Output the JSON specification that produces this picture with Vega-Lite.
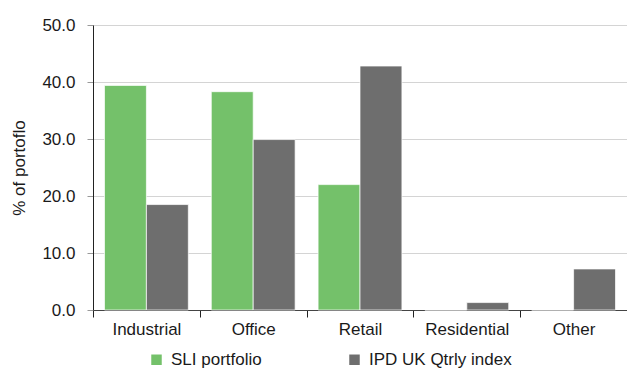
{
  "$schema": "https://vega.github.io/schema/vega-lite/v6.json",
  "width": 534,
  "height": 285,
  "autosize": {"type": "none"},
  "padding": {"left": 93, "top": 25, "right": 0, "bottom": 61},
  "background": "white",
  "data": {
    "values": [
      {"sector": "Industrial", "series": "SLI portfolio", "value": 39.4},
      {"sector": "Industrial", "series": "IPD UK Qtrly index", "value": 18.5},
      {"sector": "Office", "series": "SLI portfolio", "value": 38.3},
      {"sector": "Office", "series": "IPD UK Qtrly index", "value": 29.9},
      {"sector": "Retail", "series": "SLI portfolio", "value": 22.0},
      {"sector": "Retail", "series": "IPD UK Qtrly index", "value": 42.8},
      {"sector": "Residential", "series": "SLI portfolio", "value": 0},
      {"sector": "Residential", "series": "IPD UK Qtrly index", "value": 1.3},
      {"sector": "Other", "series": "SLI portfolio", "value": 0},
      {"sector": "Other", "series": "IPD UK Qtrly index", "value": 7.2}
    ]
  },
  "config": {
    "view": {"stroke": null},
    "font": "Liberation Sans",
    "axis": {"labelFont": "Liberation Sans", "titleFont": "Liberation Sans"}
  },
  "mark": {"type": "bar", "stroke": "#ffffff", "strokeWidth": 1, "strokeOpacity": 0.7},
  "encoding": {
    "x": {
      "field": "sector",
      "type": "nominal",
      "sort": ["Industrial", "Office", "Retail", "Residential", "Other"],
      "scale": {"paddingInner": 0, "paddingOuter": 0},
      "axis": {
        "title": null,
        "labelAngle": 0,
        "labelFontSize": 17,
        "labelColor": "#1a1a1a",
        "labelPadding": 4,
        "tickBand": "extent",
        "tickSize": 7,
        "tickColor": "#222222",
        "domainColor": "#444444",
        "grid": false
      }
    },
    "xOffset": {
      "field": "series",
      "type": "nominal",
      "sort": ["SLI portfolio", "IPD UK Qtrly index"],
      "scale": {"paddingInner": 0, "paddingOuter": 0.274}
    },
    "y": {
      "field": "value",
      "type": "quantitative",
      "scale": {"domain": [0, 50]},
      "axis": {
        "title": "% of portoflo",
        "titleFontSize": 17,
        "titleFontWeight": "normal",
        "titleColor": "#1a1a1a",
        "titlePadding": 13,
        "values": [0, 10, 20, 30, 40, 50],
        "format": ".1f",
        "labelFontSize": 17,
        "labelColor": "#1a1a1a",
        "labelPadding": 12,
        "tickSize": 6,
        "tickColor": "#999999",
        "domainColor": "#222222",
        "gridColor": "#d4d4d4"
      }
    },
    "color": {
      "field": "series",
      "type": "nominal",
      "sort": ["SLI portfolio", "IPD UK Qtrly index"],
      "scale": {"domain": ["SLI portfolio", "IPD UK Qtrly index"], "range": ["#74c16a", "#6e6e6e"]},
      "legend": {
        "title": null,
        "orient": "none",
        "direction": "horizontal",
        "legendX": 55,
        "legendY": 326,
        "symbolType": "square",
        "symbolSize": 110,
        "symbolStrokeWidth": 0,
        "labelFontSize": 17,
        "labelColor": "#1a1a1a",
        "columnPadding": 84,
        "labelOffset": 6
      }
    }
  }
}
